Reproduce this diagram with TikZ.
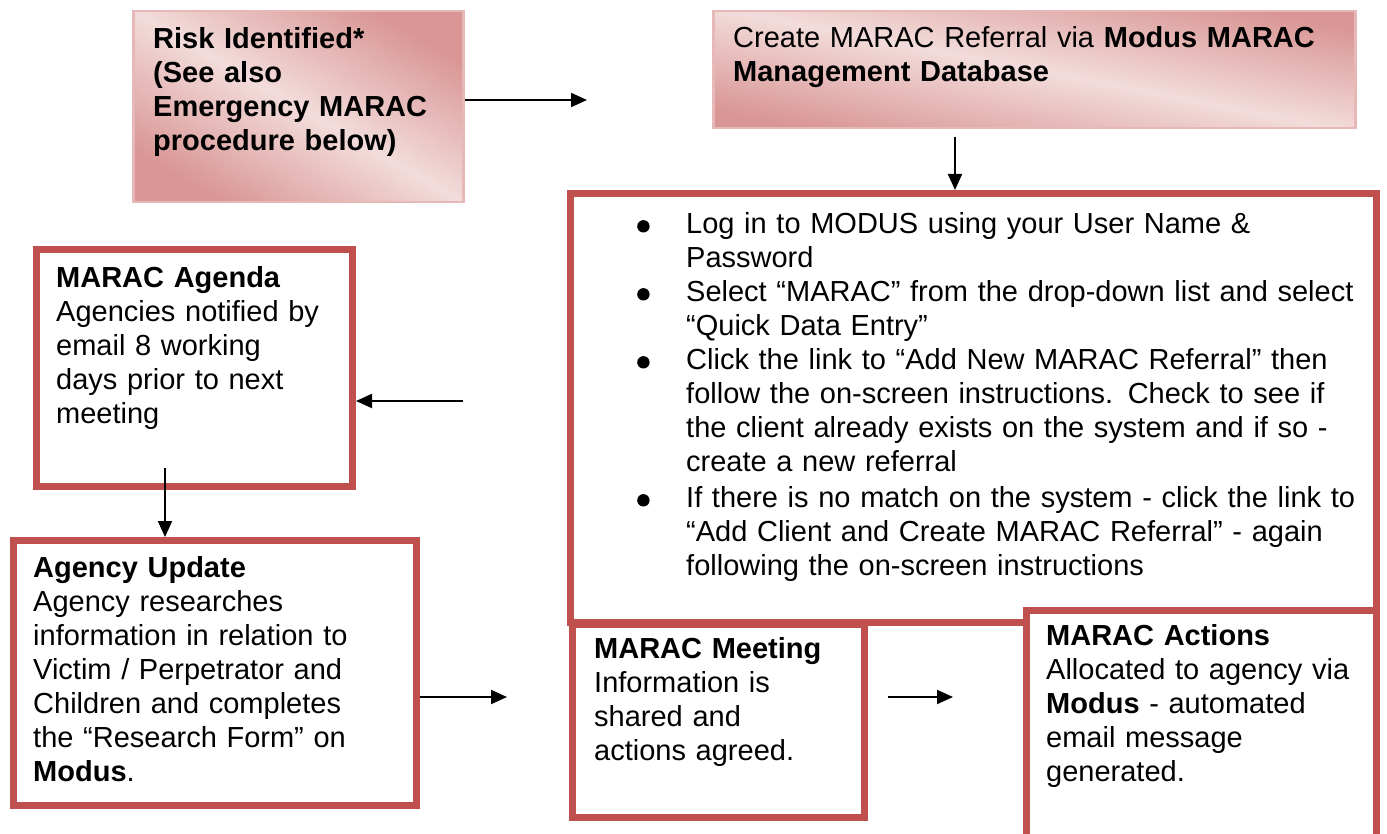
\documentclass[tikz,border=0pt]{standalone}
\usepackage{fontspec}
\setmainfont{Liberation Sans}
\usetikzlibrary{arrows.meta}
\definecolor{boxred}{HTML}{C0504D}
\definecolor{pinkD}{HTML}{D99694}
\definecolor{pinkL}{HTML}{F2DCDB}
\definecolor{pinkB}{HTML}{E6B9B8}
\newcommand{\bul}{\makebox[50pt][l]{\hspace*{1pt}\raisebox{1.5pt}{\tikz\fill[black] (0,0) circle[radius=6.2pt];}}}
\newcommand{\ind}{\hspace*{50pt}}
\begin{document}
\begin{tikzpicture}[x=1pt,y=-1pt,
  redbox/.style={draw=boxred,line width=7pt,fill=white,inner sep=0pt,anchor=north west},
  gradbox/.style={draw=pinkB,line width=2.5pt,top color=pinkD,bottom color=pinkD,middle color=pinkL,shading angle=#1,inner sep=0pt,anchor=north west},
  txt/.style={anchor=base west,inner sep=0pt,text width=#1,align=left,font=\fontsize{29}{34}\selectfont},
  conn/.style={line width=2pt,-{Triangle[length=16pt,width=14pt]}}
]
\useasboundingbox (0,0) rectangle (1387,834);
\fill[white] (0,0) rectangle (1387,834);

% gradient boxes
\node[gradbox=-30,minimum width=330pt,minimum height=191pt] (b1) at (132,10) {};
\node[gradbox=-11,minimum width=642pt,minimum height=117pt] (b2) at (712,10) {};

% red boxes
\node[redbox,minimum width=806pt,minimum height=429pt] (b3) at (567,190) {};
\node[redbox,minimum width=316pt,minimum height=237pt] (b4) at (33,246) {};
\node[redbox,minimum width=403pt,minimum height=265pt] (b5) at (10,537) {};
\node[redbox,minimum width=292pt,minimum height=193pt] (b6) at (569,621) {};
\node[redbox,minimum width=350pt,minimum height=231pt] (b7) at (1023,607) {};

% texts
\node[txt=300pt] (t1) at (153,49) {\bfseries Risk Identified*\\(See also\\Emergency MARAC\\procedure below)};
\node[txt=620pt] (t2) at (733,48) {Create MARAC Referral via \textbf{Modus MARAC}\\\textbf{Management Database}};
\node[txt=740pt] (t3) at (636,234) {\bul Log in to MODUS using your User Name \&\\
\ind Password\\
\bul Select “MARAC” from the drop-down list and select\\
\ind “Quick Data Entry”\\
\bul Click the link to “Add New MARAC Referral” then\\
\ind follow the on-screen instructions. Check to see if\\
\ind the client already exists on the system and if so -\\
\ind create a new referral\\[2pt]
\bul If there is no match on the system - click the link to\\
\ind “Add Client and Create MARAC Referral” - again\\
\ind following the on-screen instructions};
\node[txt=290pt] (t4) at (56,288) {\textbf{MARAC Agenda}\\Agencies notified by\\email 8 working\\days prior to next\\meeting};
\node[txt=380pt] (t5) at (33,577) {\textbf{Agency Update}\\Agency researches\\information in relation to\\Victim / Perpetrator and\\Children and completes\\the “Research Form” on\\\textbf{Modus}.};
\node[txt=265pt] (t6) at (594,658) {\textbf{MARAC Meeting}\\Information is\\shared and\\actions agreed.};
\node[txt=330pt] (t7) at (1046,645) {\textbf{MARAC Actions}\\Allocated to agency via\\\textbf{Modus} - automated\\email message\\generated.};

% connectors
\coordinate (a1e) at (587,100);
\draw[conn] (a1e -| b1.east) -- (a1e);
\coordinate (a2s) at (955,137);
\draw[conn] (a2s) -- (a2s |- b3.north);
\coordinate (a3s) at (463,401);
\draw[conn] (a3s) -- (a3s -| b4.east);
\coordinate (a4s) at (165,468);
\draw[conn] (a4s) -- (a4s |- b5.north);
\coordinate (a5e) at (507,697);
\draw[conn] (a5e -| b5.east) -- (a5e);
\coordinate (a6s) at (888,697);
\coordinate (a6e) at (953,697);
\draw[conn] (a6s) -- (a6e);
\end{tikzpicture}
\end{document}
